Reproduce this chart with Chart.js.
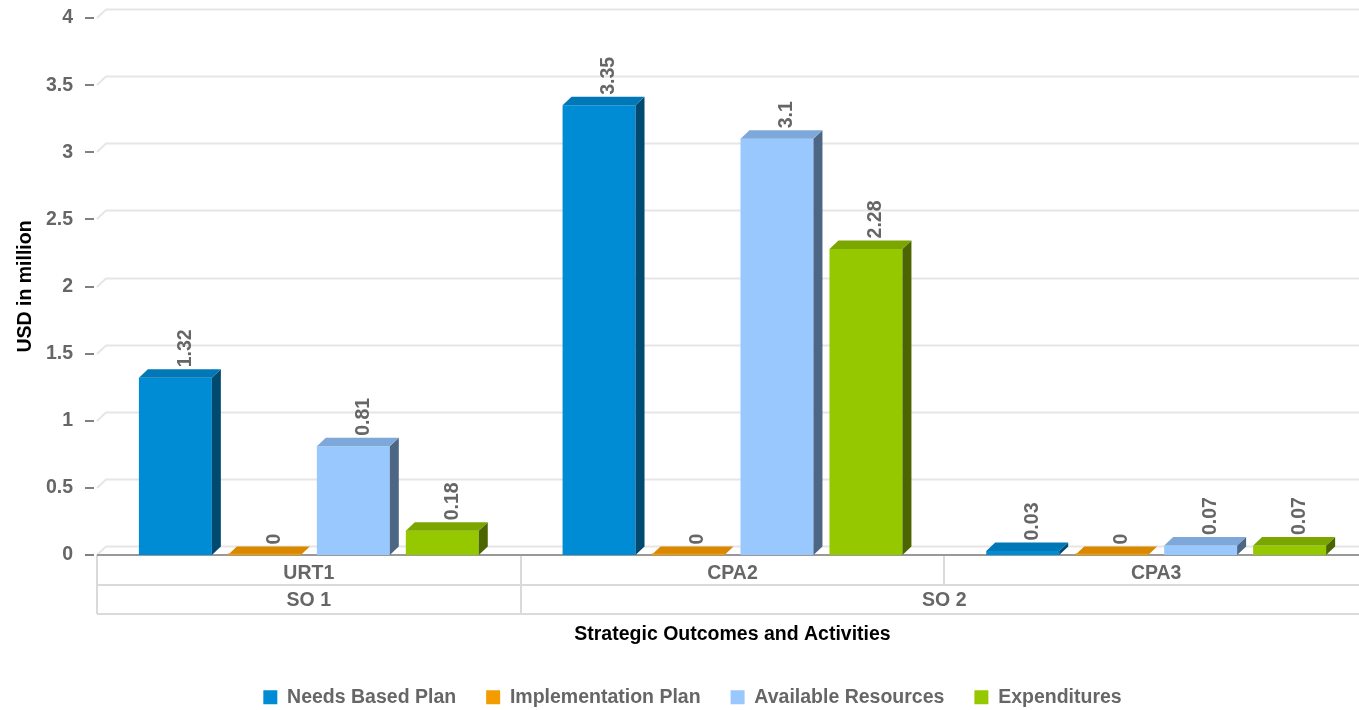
<!DOCTYPE html>
<html><head><meta charset="utf-8">
<script src="https://cdn.jsdelivr.net/npm/chart.js@4/dist/chart.umd.min.js"></script>
<style>
html,body{margin:0;padding:0;overflow:hidden;background:#fff;width:1359px;height:710px}
#wrap{position:relative;width:1368px;height:717px}
</style></head><body>
<div id="wrap"><canvas id="c"></canvas></div>
<script>
// ---- data ----
const activities = ['URT1', 'CPA2', 'CPA3'];
const outcomes = ['SO 1', 'SO 2'];
const outcomeSpans = [1, 2];
const seriesNames = ['Needs Based Plan', 'Implementation Plan', 'Available Resources', 'Expenditures'];
const needsBasedPlan = [1.32, 3.35, 0.03];
const implementationPlan = [0, 0, 0];
const availableResources = [0.81, 3.1, 0.07];
const expenditures = [0.18, 2.28, 0.07];
const yTicks = [0, 0.5, 1, 1.5, 2, 2.5, 3, 3.5, 4];

// ---- styles ----
const FONT = '"Liberation Sans", Arial, Helvetica, sans-serif';
const DX = 9, DY = -8.5;
const faces = [
  {front: '#008CD4', top: '#0077B6', side: '#004A70'},
  {front: '#F39C00', top: '#D98800', side: '#9A6100'},
  {front: '#99C8FF', top: '#7EA8D9', side: '#4C6684'},
  {front: '#96C800', top: '#7BA600', side: '#4B6600'}
];
const seriesValues = [needsBasedPlan, implementationPlan, availableResources, expenditures];

Chart.defaults.font.family = FONT;

const threeD = {
  id: 'threeD',
  beforeDatasetsDraw(chart) {
    const {ctx, chartArea: a, scales: {x, y}} = chart;
    ctx.save();
    // back-wall gridlines
    ctx.lineWidth = 2;
    ctx.strokeStyle = '#e6e6e6';
    yTicks.forEach(v => {
      const py = Math.round(y.getPixelForValue(v));
      ctx.beginPath();
      ctx.moveTo(a.left, py);
      ctx.lineTo(a.left + DX, py + DY);
      ctx.lineTo(a.right + DX, py + DY);
      ctx.stroke();
    });
    // tick dashes
    ctx.strokeStyle = '#808080';
    yTicks.forEach(v => {
      const py = Math.round(y.getPixelForValue(v));
      ctx.beginPath();
      ctx.moveTo(a.left - 12, py);
      ctx.lineTo(a.left - 3, py);
      ctx.stroke();
    });
    // category grid (grouped axis)
    const catW = x.getPixelForValue(1) - x.getPixelForValue(0);
    const r1 = a.bottom + 30, r2 = a.bottom + 59;
    ctx.strokeStyle = '#dadada';
    ctx.lineWidth = 2;
    ctx.beginPath();
    ctx.moveTo(a.left, r1); ctx.lineTo(a.right, r1);
    ctx.moveTo(a.left, r2); ctx.lineTo(a.right, r2);
    for (let k = 0; k <= activities.length; k++) {
      const px = Math.round(a.left + k * catW);
      ctx.moveTo(px, a.bottom); ctx.lineTo(px, r1);
    }
    let acc = 0;
    ctx.moveTo(a.left, r1); ctx.lineTo(a.left, r2);
    outcomeSpans.forEach(s => {
      acc += s;
      const px = Math.round(a.left + acc * catW);
      ctx.moveTo(px, r1); ctx.lineTo(px, r2);
    });
    ctx.stroke();
    // outcome labels
    ctx.fillStyle = '#666666';
    ctx.font = 'bold 19.5px ' + FONT;
    ctx.textAlign = 'center';
    ctx.textBaseline = 'middle';
    acc = 0;
    outcomes.forEach((o, i) => {
      const cx = a.left + (acc + outcomeSpans[i] / 2) * catW;
      ctx.fillText(o, cx, (r1 + r2) / 2 + 1);
      acc += outcomeSpans[i];
    });
    // axis line
    ctx.strokeStyle = '#999999';
    ctx.lineWidth = 2;
    ctx.beginPath();
    ctx.moveTo(a.left, a.bottom); ctx.lineTo(a.right, a.bottom);
    ctx.stroke();
    ctx.restore();
  },
  afterDatasetsDraw(chart) {
    const {ctx} = chart;
    ctx.save();
    chart.data.datasets.forEach((ds, i) => {
      const meta = chart.getDatasetMeta(i);
      meta.data.forEach((bar, j) => {
        const p = bar.getProps(['x', 'y', 'base', 'width'], true);
        const l = p.x - p.width / 2, r = p.x + p.width / 2;
        const top = p.y, base = p.base;
        // side face
        ctx.fillStyle = faces[i].side;
        ctx.beginPath();
        ctx.moveTo(r, top); ctx.lineTo(r + DX, top + DY); ctx.lineTo(r + DX, base + DY); ctx.lineTo(r, base);
        ctx.closePath(); ctx.fill();
        // top face
        ctx.fillStyle = faces[i].top;
        ctx.beginPath();
        ctx.moveTo(l, top); ctx.lineTo(l + DX, top + DY); ctx.lineTo(r + DX, top + DY); ctx.lineTo(r, top);
        ctx.closePath(); ctx.fill();
        if (base - top < 1.5) {
          ctx.fillStyle = faces[i].front;
          ctx.fillRect(l, base - 1.5, p.width, 1.5);
        }
        // data label
        const v = ds.data[j];
        ctx.save();
        ctx.translate(p.x + DX, top + DY - 2);
        ctx.rotate(-Math.PI / 2);
        ctx.font = 'bold 19.5px ' + FONT;
        ctx.fillStyle = '#666666';
        ctx.textAlign = 'left';
        ctx.textBaseline = 'middle';
        ctx.fillText(String(v), 0, 1);
        ctx.restore();
      });
    });
    ctx.restore();
  }
};

new Chart(document.getElementById('c'), {
  type: 'bar',
  data: {
    labels: activities,
    datasets: seriesNames.map((n, i) => ({
      label: n,
      data: seriesValues[i],
      backgroundColor: faces[i].front,
      borderWidth: 0,
      categoryPercentage: 0.84,
      barPercentage: 0.82
    }))
  },
  options: {
    responsive: true,
    maintainAspectRatio: false,
    animation: false,
    layout: {padding: {left: 17, top: 18, right: 0, bottom: 0}},
    plugins: {
      legend: {
        position: 'bottom',
        labels: {
          boxWidth: 14, boxHeight: 14, padding: 30,
          color: '#666666',
          font: {size: 19.5, weight: 'bold'}
        }
      },
      tooltip: {enabled: false}
    },
    scales: {
      x: {
        grid: {display: false, drawTicks: false},
        border: {display: false},
        ticks: {color: '#666666', font: {size: 19.5, weight: 'bold'}, padding: 7, maxRotation: 0},
        title: {display: true, text: 'Strategic Outcomes and Activities', color: '#000000',
                font: {size: 19.5, weight: 'bold'}, padding: {top: 0, bottom: 11}},
        afterFit(s) { s.height = 102.5; }
      },
      y: {
        min: 0, max: 4,
        grid: {display: false, drawTicks: false},
        border: {display: false},
        ticks: {stepSize: 0.5, color: '#666666', font: {size: 19.5, weight: 'bold'}, padding: 24,
                callback: v => String(Number(v))},
        title: {display: true, text: 'USD in million', color: '#000000',
                font: {size: 19.5, weight: 'bold', lineHeight: 0.75}, padding: {top: 1, bottom: 0}},
        afterFit(s) { s.width = 80; s.paddingTop = 0; s.paddingBottom = 0; }
      }
    }
  },
  plugins: [threeD]
});
</script>
</body></html>
